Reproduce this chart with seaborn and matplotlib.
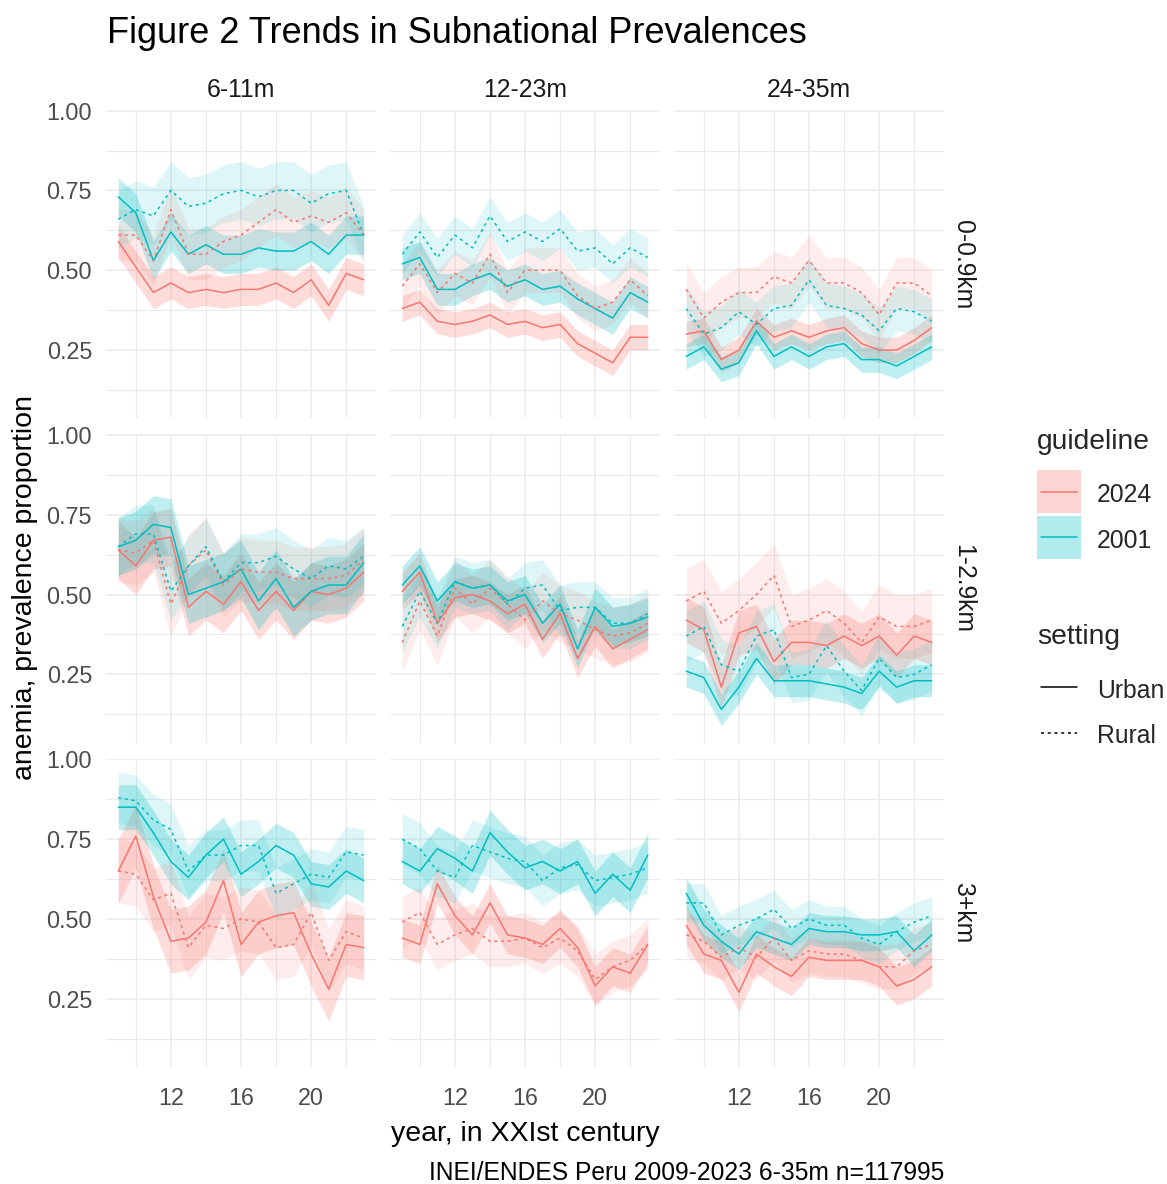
import matplotlib
matplotlib.use("Agg")

import pandas as pd
import seaborn as sns
import matplotlib.pyplot as plt
from matplotlib.patches import Rectangle
from matplotlib.lines import Line2D

# years shown as two digits ("year, in XXIst century")
years = [9, 10, 11, 12, 13, 14, 15, 16, 17, 18, 19, 20, 21, 22, 23]
ages = ["6-11m", "12-23m", "24-35m"]
dists = ["0-0.9km", "1-2.9km", "3+km"]
guidelines = ["2024", "2001"]
settings = ["Urban", "Rural"]

# 6-11m, 0-0.9km
m6_d0_u2001 = [0.73, 0.68, 0.53, 0.62, 0.55, 0.58, 0.55, 0.55, 0.57, 0.56, 0.56, 0.59, 0.55, 0.61, 0.61]
m6_d0_r2001 = [0.66, 0.69, 0.67, 0.75, 0.70, 0.71, 0.74, 0.75, 0.73, 0.75, 0.75, 0.71, 0.74, 0.75, 0.61]
m6_d0_u2024 = [0.59, 0.51, 0.43, 0.46, 0.43, 0.44, 0.43, 0.44, 0.44, 0.46, 0.43, 0.47, 0.39, 0.49, 0.47]
m6_d0_r2024 = [0.61, 0.61, 0.53, 0.69, 0.55, 0.55, 0.59, 0.61, 0.65, 0.69, 0.65, 0.67, 0.65, 0.68, 0.61]
m6_d0_hw = [0.06, 0.09, 0.05, 0.08]

# 12-23m, 0-0.9km
m12_d0_u2001 = [0.52, 0.54, 0.44, 0.44, 0.47, 0.49, 0.45, 0.47, 0.44, 0.45, 0.41, 0.38, 0.35, 0.43, 0.40]
m12_d0_r2001 = [0.55, 0.62, 0.54, 0.61, 0.57, 0.67, 0.59, 0.62, 0.59, 0.63, 0.56, 0.57, 0.52, 0.57, 0.54]
m12_d0_u2024 = [0.38, 0.40, 0.34, 0.33, 0.34, 0.36, 0.33, 0.34, 0.32, 0.33, 0.27, 0.24, 0.21, 0.29, 0.29]
m12_d0_r2024 = [0.45, 0.52, 0.43, 0.49, 0.46, 0.55, 0.43, 0.50, 0.50, 0.50, 0.42, 0.38, 0.40, 0.47, 0.42]
m12_d0_hw = [0.05, 0.06, 0.04, 0.07]

# 24-35m, 0-0.9km
m24_d0_u2001 = [0.23, 0.26, 0.19, 0.21, 0.31, 0.23, 0.26, 0.23, 0.26, 0.27, 0.22, 0.22, 0.20, 0.23, 0.26]
m24_d0_r2001 = [0.38, 0.30, 0.32, 0.37, 0.33, 0.38, 0.39, 0.47, 0.39, 0.38, 0.36, 0.31, 0.38, 0.37, 0.34]
m24_d0_u2024 = [0.30, 0.31, 0.22, 0.25, 0.34, 0.29, 0.31, 0.29, 0.31, 0.32, 0.27, 0.25, 0.25, 0.28, 0.32]
m24_d0_r2024 = [0.44, 0.35, 0.40, 0.43, 0.43, 0.48, 0.46, 0.53, 0.46, 0.46, 0.43, 0.36, 0.46, 0.46, 0.42]
m24_d0_hw = [0.04, 0.07, 0.04, 0.08]

# 6-11m, 1-2.9km
m6_d1_u2001 = [0.65, 0.67, 0.72, 0.71, 0.50, 0.52, 0.54, 0.58, 0.48, 0.55, 0.46, 0.51, 0.53, 0.53, 0.60]
m6_d1_r2001 = [0.65, 0.69, 0.69, 0.51, 0.59, 0.65, 0.54, 0.60, 0.60, 0.62, 0.58, 0.55, 0.59, 0.58, 0.62]
m6_d1_u2024 = [0.64, 0.59, 0.67, 0.68, 0.46, 0.51, 0.47, 0.54, 0.45, 0.51, 0.45, 0.51, 0.50, 0.52, 0.57]
m6_d1_r2024 = [0.64, 0.63, 0.67, 0.47, 0.59, 0.64, 0.53, 0.58, 0.57, 0.57, 0.55, 0.55, 0.55, 0.56, 0.61]
m6_d1_hw = [0.09, 0.09, 0.09, 0.10]

# 12-23m, 1-2.9km
m12_d1_u2001 = [0.53, 0.59, 0.48, 0.54, 0.52, 0.53, 0.48, 0.50, 0.41, 0.47, 0.33, 0.46, 0.40, 0.41, 0.43]
m12_d1_r2001 = [0.40, 0.51, 0.41, 0.54, 0.52, 0.53, 0.47, 0.52, 0.53, 0.45, 0.46, 0.46, 0.41, 0.41, 0.44]
m12_d1_u2024 = [0.51, 0.57, 0.41, 0.49, 0.50, 0.48, 0.44, 0.47, 0.36, 0.44, 0.30, 0.40, 0.33, 0.36, 0.39]
m12_d1_r2024 = [0.35, 0.48, 0.37, 0.52, 0.47, 0.52, 0.47, 0.42, 0.48, 0.44, 0.42, 0.39, 0.37, 0.38, 0.41]
m12_d1_hw = [0.06, 0.08, 0.06, 0.09]

# 24-35m, 1-2.9km
m24_d1_u2001 = [0.26, 0.24, 0.14, 0.21, 0.30, 0.23, 0.23, 0.23, 0.22, 0.21, 0.19, 0.26, 0.21, 0.23, 0.23]
m24_d1_r2001 = [0.37, 0.40, 0.28, 0.26, 0.37, 0.39, 0.24, 0.25, 0.34, 0.26, 0.20, 0.30, 0.24, 0.25, 0.28]
m24_d1_u2024 = [0.42, 0.39, 0.21, 0.38, 0.40, 0.29, 0.35, 0.35, 0.34, 0.37, 0.34, 0.37, 0.31, 0.37, 0.35]
m24_d1_r2024 = [0.48, 0.51, 0.41, 0.45, 0.50, 0.56, 0.40, 0.42, 0.45, 0.41, 0.35, 0.43, 0.40, 0.40, 0.42]
m24_d1_hw = [0.05, 0.08, 0.07, 0.10]

# 6-11m, 3+km
m6_d2_u2001 = [0.85, 0.85, 0.77, 0.68, 0.63, 0.70, 0.75, 0.64, 0.68, 0.73, 0.70, 0.61, 0.60, 0.65, 0.62]
m6_d2_r2001 = [0.88, 0.87, 0.81, 0.78, 0.65, 0.70, 0.70, 0.73, 0.73, 0.58, 0.61, 0.64, 0.63, 0.71, 0.70]
m6_d2_u2024 = [0.65, 0.76, 0.57, 0.43, 0.44, 0.49, 0.62, 0.42, 0.49, 0.51, 0.52, 0.39, 0.28, 0.42, 0.41]
m6_d2_r2024 = [0.65, 0.64, 0.56, 0.58, 0.41, 0.48, 0.47, 0.50, 0.49, 0.41, 0.42, 0.52, 0.37, 0.46, 0.44]
m6_d2_hw = [0.07, 0.08, 0.10, 0.10]

# 12-23m, 3+km
m12_d2_u2001 = [0.68, 0.65, 0.72, 0.69, 0.65, 0.77, 0.71, 0.66, 0.68, 0.65, 0.68, 0.58, 0.64, 0.59, 0.70]
m12_d2_r2001 = [0.75, 0.72, 0.65, 0.63, 0.73, 0.71, 0.69, 0.68, 0.62, 0.66, 0.67, 0.62, 0.63, 0.64, 0.66]
m12_d2_u2024 = [0.44, 0.42, 0.61, 0.51, 0.45, 0.55, 0.45, 0.44, 0.42, 0.47, 0.41, 0.29, 0.35, 0.33, 0.42]
m12_d2_r2024 = [0.49, 0.52, 0.42, 0.45, 0.47, 0.43, 0.43, 0.44, 0.41, 0.44, 0.40, 0.31, 0.35, 0.37, 0.42]
m12_d2_hw = [0.07, 0.08, 0.06, 0.08]

# 24-35m, 3+km
m24_d2_u2001 = [0.58, 0.48, 0.43, 0.39, 0.46, 0.44, 0.42, 0.47, 0.46, 0.46, 0.45, 0.45, 0.46, 0.40, 0.45]
m24_d2_r2001 = [0.55, 0.55, 0.45, 0.48, 0.50, 0.53, 0.47, 0.50, 0.48, 0.48, 0.44, 0.42, 0.46, 0.49, 0.51]
m24_d2_u2024 = [0.48, 0.39, 0.37, 0.27, 0.39, 0.35, 0.32, 0.38, 0.37, 0.37, 0.37, 0.35, 0.29, 0.31, 0.35]
m24_d2_r2024 = [0.45, 0.43, 0.38, 0.41, 0.38, 0.44, 0.37, 0.40, 0.39, 0.39, 0.37, 0.35, 0.35, 0.40, 0.42]
m24_d2_hw = [0.05, 0.06, 0.06, 0.07]

panels = {
    ("6-11m", "0-0.9km"): (m6_d0_u2001, m6_d0_r2001, m6_d0_u2024, m6_d0_r2024, m6_d0_hw),
    ("12-23m", "0-0.9km"): (m12_d0_u2001, m12_d0_r2001, m12_d0_u2024, m12_d0_r2024, m12_d0_hw),
    ("24-35m", "0-0.9km"): (m24_d0_u2001, m24_d0_r2001, m24_d0_u2024, m24_d0_r2024, m24_d0_hw),
    ("6-11m", "1-2.9km"): (m6_d1_u2001, m6_d1_r2001, m6_d1_u2024, m6_d1_r2024, m6_d1_hw),
    ("12-23m", "1-2.9km"): (m12_d1_u2001, m12_d1_r2001, m12_d1_u2024, m12_d1_r2024, m12_d1_hw),
    ("24-35m", "1-2.9km"): (m24_d1_u2001, m24_d1_r2001, m24_d1_u2024, m24_d1_r2024, m24_d1_hw),
    ("6-11m", "3+km"): (m6_d2_u2001, m6_d2_r2001, m6_d2_u2024, m6_d2_r2024, m6_d2_hw),
    ("12-23m", "3+km"): (m12_d2_u2001, m12_d2_r2001, m12_d2_u2024, m12_d2_r2024, m12_d2_hw),
    ("24-35m", "3+km"): (m24_d2_u2001, m24_d2_r2001, m24_d2_u2024, m24_d2_r2024, m24_d2_hw),
}

# long table: each point gets lower / estimate / upper rows, band = min..max
rows = []
for (age, dist), (u01, r01, u24, r24, hw) in panels.items():
    series = [("2001", "Urban", u01, hw[0]), ("2001", "Rural", r01, hw[1]),
              ("2024", "Urban", u24, hw[2]), ("2024", "Rural", r24, hw[3])]
    for gl, st, vals, h in series:
        for yr, v in zip(years, vals):
            for val in (v - h, v, v + h):
                rows.append({"age": age, "dist": dist, "guideline": gl,
                             "setting": st, "year": yr, "value": val})
df = pd.DataFrame(rows)

palette = {"2024": "#F8766D", "2001": "#00BFC4"}
band_alpha = {"Urban": 0.25, "Rural": 0.13}
line_style = {"Urban": "-", "Rural": (0, (2.0, 2.4))}

sns.set_style("white")
plt.rcParams["font.family"] = ["Liberation Sans", "DejaVu Sans"]

W, H = 1167, 1184


def fx(px):
    return px / W


def fy(py):
    return 1 - py / H


def draw_panel(data, **kws):
    ax = plt.gca()
    for st in settings:
        sub = data[data["setting"] == st]
        sns.lineplot(data=sub, x="year", y="value", hue="guideline",
                     hue_order=guidelines, palette=palette,
                     estimator="median", errorbar=("pi", 100),
                     err_kws={"alpha": band_alpha[st], "linewidth": 0},
                     linestyle=line_style[st], linewidth=1.1,
                     legend=False, ax=ax)


g = sns.FacetGrid(df, row="dist", col="age", row_order=dists, col_order=ages,
                  height=3.1, aspect=0.88, sharex=True, sharey=True, despine=False)
g.map_dataframe(draw_panel)
g.set_titles(template="")
g.set_axis_labels("", "")

fig = g.figure
fig.set_size_inches(W / 100, H / 100)
fig.subplots_adjust(left=fx(106), right=fx(944), top=fy(110), bottom=fy(1067),
                    wspace=14 / 270, hspace=16 / 308)

grid_col = "#EBEBEB"
for i, dist in enumerate(dists):
    for j, age in enumerate(ages):
        ax = g.axes[i, j]
        ax.set_xlim(8.3, 23.7)
        ax.set_ylim(0.036, 1.002)
        ax.set_xticks([12, 16, 20])
        ax.set_xticks([10, 14, 18, 22], minor=True)
        ax.set_yticks([0.25, 0.5, 0.75, 1.0])
        ax.set_yticks([0.125, 0.375, 0.625, 0.875], minor=True)
        ax.yaxis.set_major_formatter(matplotlib.ticker.FormatStrFormatter("%.2f"))
        ax.xaxis.set_major_formatter(matplotlib.ticker.FormatStrFormatter("%d"))
        ax.grid(which="major", color=grid_col, linewidth=1.1)
        ax.grid(which="minor", color=grid_col, linewidth=0.8)
        ax.set_axisbelow(True)
        for sp in ax.spines.values():
            sp.set_visible(False)
        ax.tick_params(which="both", length=0, labelsize=16.8, labelcolor="#4D4D4D")
        ax.tick_params(axis="y", pad=10)
        ax.tick_params(axis="x", pad=14.5)
        ax.tick_params(labelleft=(j == 0), labelbottom=(i == 2))
        ax.set_xlabel("")
        ax.set_ylabel("")
        if i == 0:
            ax.set_title(age, fontsize=17.8, color="#1A1A1A", pad=9.4)
        if j == 2:
            ax.text(1.07, 0.5, dist, transform=ax.transAxes, rotation=270,
                    ha="center", va="center", fontsize=17.8, color="#1A1A1A")

fig.text(fx(107), fy(43), "Figure 2 Trends in Subnational Prevalences",
         fontsize=26, ha="left", va="baseline", color="black")
fig.text(fx(525), fy(1141), "year, in XXIst century", fontsize=20.5,
         ha="center", va="baseline", color="black")
fig.text(fx(25), fy(588), "anemia, prevalence proportion", fontsize=20.5,
         rotation=90, ha="center", va="center", color="black")
fig.text(fx(944), fy(1180), "INEI/ENDES Peru 2009-2023 6-35m n=117995",
         fontsize=17.7, ha="right", va="baseline", color="black")

# legend: guideline (fill + line) and setting (line type)
fig.text(fx(1037), fy(449), "guideline", fontsize=20.3, ha="left", va="baseline")
for gl, top, base in [("2024", 470, 502), ("2001", 516, 548)]:
    fig.add_artist(Rectangle((fx(1037), fy(top + 43)), fx(44), 43 / H,
                             transform=fig.transFigure, facecolor=palette[gl],
                             alpha=0.3, edgecolor="none"))
    mid = top + 21.5
    fig.add_artist(Line2D([fx(1041), fx(1077)], [fy(mid), fy(mid)],
                          transform=fig.transFigure, color=palette[gl], linewidth=1.1))
    fig.text(fx(1097), fy(base), gl, fontsize=17.8, ha="left", va="baseline")

fig.text(fx(1037), fy(644), "setting", fontsize=20.3, ha="left", va="baseline")
for st, ly, base in [("Urban", 687, 698), ("Rural", 733, 743)]:
    fig.add_artist(Line2D([fx(1041), fx(1077)], [fy(ly), fy(ly)],
                          transform=fig.transFigure, color="black", linewidth=1.1,
                          linestyle=line_style[st]))
    fig.text(fx(1097), fy(base), st, fontsize=17.8, ha="left", va="baseline")

fig.savefig("out.png", dpi=100)
plt.close(fig)
